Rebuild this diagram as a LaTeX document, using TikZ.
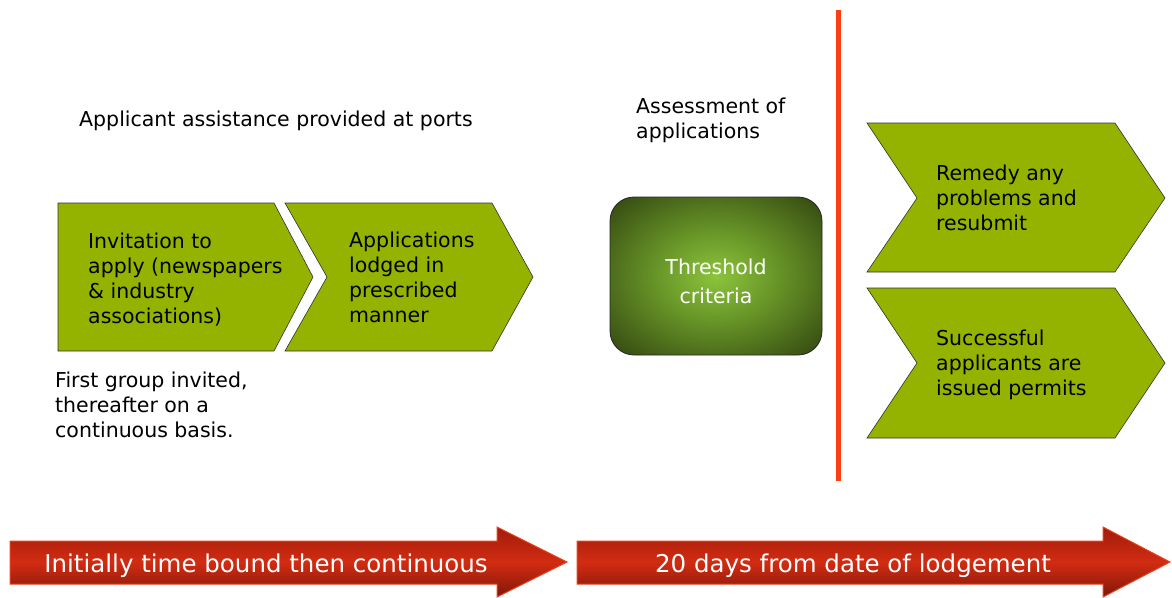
\documentclass[tikz,border=0pt]{standalone}
\usepackage{fontspec}
\setmainfont{DejaVu Sans}
\definecolor{chevgreen}{RGB}{148,179,0}
\definecolor{barred}{RGB}{210,44,18}
\definecolor{bardark}{RGB}{160,28,10}
\definecolor{barrim}{RGB}{232,67,31}
\definecolor{cutred}{RGB}{252,62,20}
\definecolor{critlight}{RGB}{140,196,60}
\definecolor{critmid}{RGB}{104,150,40}
\definecolor{critedge}{RGB}{64,90,22}
\definecolor{critdark}{RGB}{32,42,8}
\pgfdeclareradialshading{critglow}{\pgfpoint{0bp}{0bp}}{color(0bp)=(critlight);
  color(14bp)=(critmid); color(30bp)=(critedge); color(42bp)=(critdark); color(50bp)=(critdark)}
\begin{document}
\begin{tikzpicture}
  [x=1pt,y=-1pt,
   every node/.style={inner sep=0pt,font=\fontsize{20.5}{25}\selectfont},
   chev/.style={draw=black!80,line width=.6pt,fill=chevgreen},
   txt/.style={anchor=north west,align=left},
   crit/.style={draw=black!85,line width=.8pt,rounded corners=24pt,shading=critglow},
   crittxt/.style={text=white,align=center,font=\fontsize{20.5}{29}\selectfont},
   bar/.style={draw=barrim,line width=1pt,top color=bardark,bottom color=bardark!80!black,middle color=barred},
   bartxt/.style={anchor=base,text=white,font=\fontsize{24.5}{28}\selectfont},
   cut/.style={draw=cutred,line width=5pt}]

  \useasboundingbox (0,0) rectangle (1172,597);

  \draw[chev] (58,203) -- (274,203) -- (313,277) -- (274,351) -- (58,351) -- cycle;
  \draw[chev] (285,203) -- (492,203) -- (533,277) -- (492,351) -- (285,351) -- (327,277) -- cycle;
  \draw[chev] (867,123) -- (1115,123) -- (1165,198) -- (1115,272) -- (867,272) -- (917,198) -- cycle;
  \draw[chev] (867,288) -- (1115,288) -- (1165,363) -- (1115,438) -- (867,438) -- (917,363) -- cycle;

  \shadedraw[crit] (610,197) rectangle (822,355);
  \draw[cut] (838,10) -- (838,481);

  \path[bar] (10,541) -- (497,541) -- (497,527) -- (567,562) -- (497,597) -- (497,584) -- (10,584) -- cycle;
  \path[bar] (577,541) -- (1103,541) -- (1103,527) -- (1170,562) -- (1103,597) -- (1103,584) -- (577,584) -- cycle;

  \node[txt] (assist) at (79,111) {Applicant assistance provided at ports};
  \node[txt] (assess) at (636,98) {Assessment of\\applications};
  \node[txt] (invite) at (88,233) {Invitation to\\apply (newspapers\\\& industry\\associations)};
  \node[txt] (lodge) at (349,232) {Applications\\lodged in\\prescribed\\manner};
  \node[txt] (first) at (55,372) {First group invited,\\thereafter on a\\continuous basis.};
  \node[txt] (remedy) at (936,165) {Remedy any\\problems and\\resubmit};
  \node[txt] (success) at (936,330) {Successful\\applicants are\\issued permits};
  \node[crittxt] (thresh) at (716,281) {Threshold\\criteria};

  \node[bartxt] (bound) at (266,572) {Initially time bound then continuous};
  \node[bartxt] (days) at (853,572) {20 days from date of lodgement};

 \end{tikzpicture}
\end{document}
